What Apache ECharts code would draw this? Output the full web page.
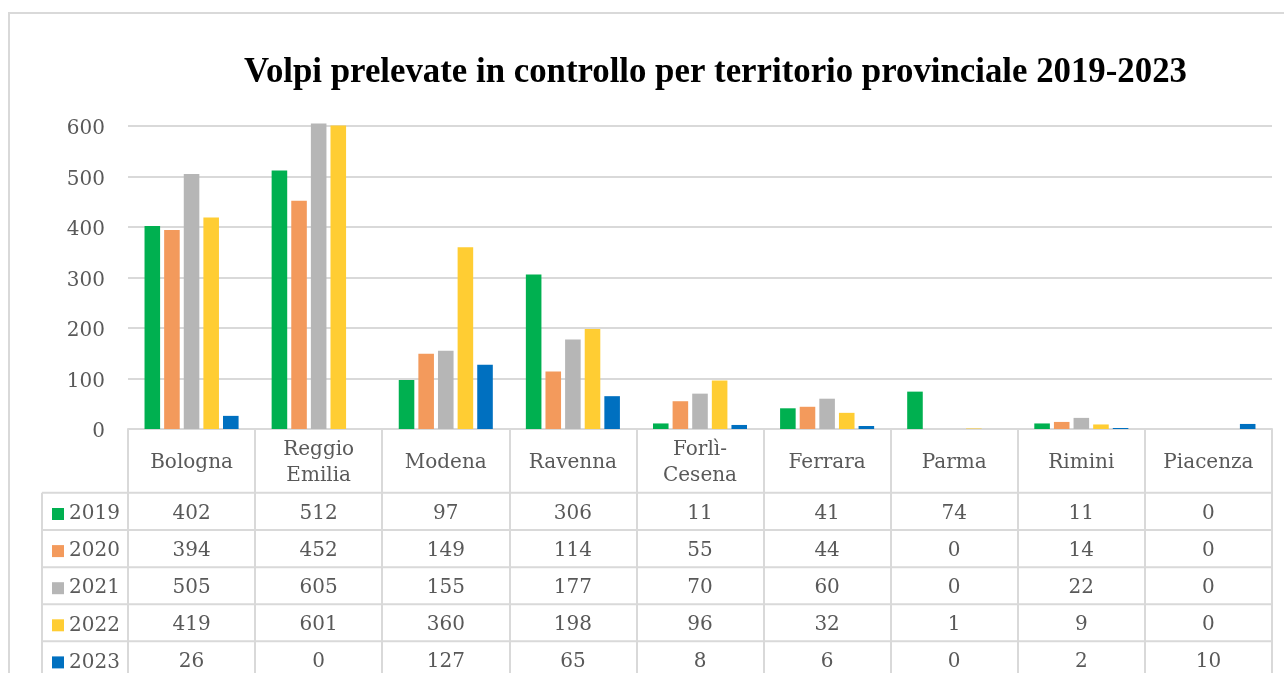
<!DOCTYPE html>
<html>
<head>
<meta charset="utf-8">
<script src="https://cdn.jsdelivr.net/npm/echarts@6/dist/echarts.min.js"></script>
<style>
  html, body { margin: 0; padding: 0; background: #fff; }
  #chart { width: 1284px; height: 673px; }
</style>
</head>
<body>
<div id="chart"></div>
<script>
const TITLE = "Volpi prelevate in controllo per territorio provinciale 2019-2023";
const categories = ["Bologna", "Reggio\nEmilia", "Modena", "Ravenna", "Forlì-\nCesena", "Ferrara", "Parma", "Rimini", "Piacenza"];
const years = ["2019", "2020", "2021", "2022", "2023"];
const colors = ["#00B050", "#F39A5C", "#B6B6B6", "#FFCD33", "#0070C0"];

const v2019 = [402, 512, 97, 306, 11, 41, 74, 11, 0];
const v2020 = [394, 452, 149, 114, 55, 44, 0, 14, 0];
const v2021 = [505, 605, 155, 177, 70, 60, 0, 22, 0];
const v2022 = [419, 601, 360, 198, 96, 32, 1, 9, 0];
const v2023 = [26, 0, 127, 65, 8, 6, 0, 2, 10];
const rows = [v2019, v2020, v2021, v2022, v2023];

const yTicks = { min: 0, max: 600, interval: 100 };

const FONT = "DejaVu Serif";
const GRAY_TXT = "#595959";
const LINE = "#D9D9D9";

// righe della tabella (centro riga rispetto all'asse x)
const rowOffsets = [85, 122, 159, 196, 233];
const rowLines = [492.7, 530, 567.3, 604.3, 641.3];

const chart = echarts.init(document.getElementById("chart"));

const xAxes = [{
  type: "category",
  data: categories,
  axisLine: { lineStyle: { color: LINE, width: 2 } },
  axisTick: { show: true, length: 260, lineStyle: { color: LINE, width: 2 } },
  axisLabel: {
    interval: 0,
    margin: 34,
    verticalAlign: "middle",
    color: GRAY_TXT,
    fontFamily: FONT,
    fontSize: 20,
    lineHeight: 26,
  },
}];
rows.forEach((vals, i) => {
  xAxes.push({
    type: "category",
    data: categories,
    gridIndex: 0,
    position: "bottom",
    axisLine: { show: false },
    axisTick: { show: false },
    splitLine: { show: false },
    axisLabel: {
      interval: 0,
      margin: rowOffsets[i],
      verticalAlign: "middle",
      color: GRAY_TXT,
      fontFamily: FONT,
      fontSize: 20,
      formatter: (v, idx) => String(vals[idx]),
    },
  });
});

const graphics = [
  { type: "rect", shape: { x: 9, y: 13, width: 1320, height: 720 }, style: { fill: "none", stroke: LINE, lineWidth: 2 }, silent: true },
  { type: "line", shape: { x1: 42, y1: rowLines[0], x2: 42, y2: 680 }, style: { stroke: LINE, lineWidth: 2 }, silent: true },
];
rowLines.forEach(y => {
  graphics.push({ type: "line", shape: { x1: 42, y1: y, x2: 1272, y2: y }, style: { stroke: LINE, lineWidth: 2 }, silent: true });
});

chart.setOption({
  backgroundColor: "#fff",
  animation: false,
  color: colors,
  title: {
    text: TITLE,
    left: 239,
    top: 51,
    textStyle: { fontFamily: "Liberation Serif", fontWeight: "bold", fontSize: 34.8, color: "#000" },
  },
  legend: {
    orient: "vertical",
    left: 47,
    top: 497,
    height: 260,
    icon: "rect",
    itemWidth: 12,
    itemHeight: 12,
    itemGap: 13.1,
    data: years,
    textStyle: { fontFamily: FONT, fontSize: 20, color: GRAY_TXT, lineHeight: 24 },
    selectedMode: false,
  },
  grid: { left: 128, right: 12, top: 126, bottom: 244, containLabel: false },
  xAxis: xAxes,
  yAxis: {
    type: "value",
    min: yTicks.min,
    max: yTicks.max,
    interval: yTicks.interval,
    axisLine: { show: false },
    axisTick: { show: false },
    axisLabel: { margin: 23, color: GRAY_TXT, fontFamily: FONT, fontSize: 20, verticalAlign: "top", padding: [-7, 0, 0, 0] },
    splitLine: { lineStyle: { color: LINE, width: 2 } },
  },
  graphic: graphics,
  series: years.map((y, i) => ({
    name: y,
    type: "bar",
    data: rows[i],
    clip: false,
    barGap: "26%",
    barCategoryGap: "26%",
    itemStyle: { color: colors[i] },
  })),
});

window.addEventListener("resize", () => chart.resize());
</script>
</body>
</html>
